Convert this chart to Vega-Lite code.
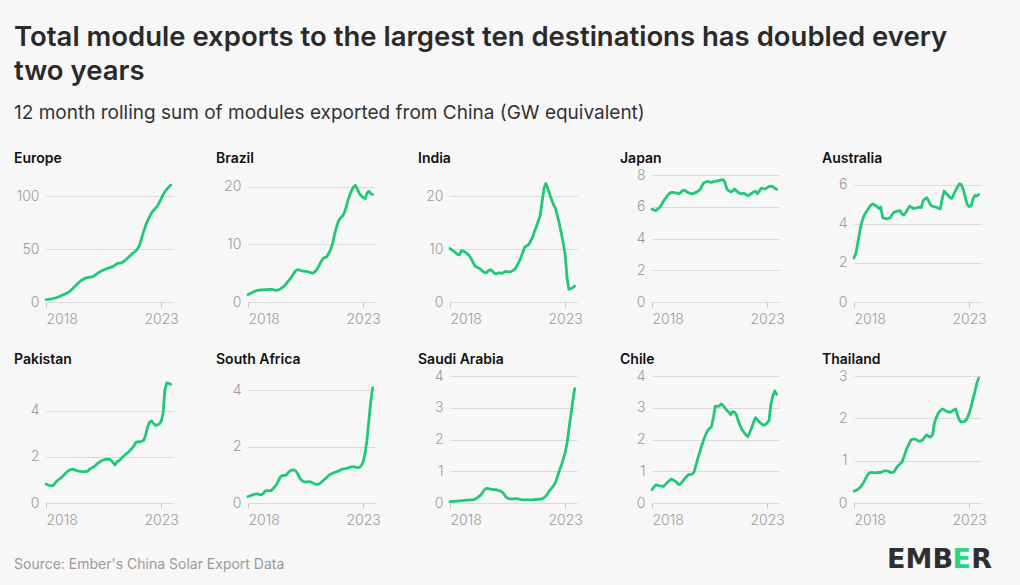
{
  "$schema": "https://vega.github.io/schema/vega-lite/v6.json",
  "padding": {"left": 14, "top": 23, "right": 28, "bottom": 13},
  "background": "#f7f7f7",
  "title": {
    "text": ["Total module exports to the largest ten destinations has doubled every", "two years"],
    "subtitle": "12 month rolling sum of modules exported from China (GW equivalent)",
    "anchor": "start", "font": "Inter", "fontSize": 27.5, "fontWeight": 600, "color": "#2a2a2a", "lineHeight": 34,
    "subtitleFont": "Inter", "subtitleFontSize": 19, "subtitleFontWeight": 400, "subtitleColor": "#333333", "subtitlePadding": 19, "offset": 29
  },
  "datasets": {
    "Europe": [{"date":"2018-01","gw":2.2},{"date":"2018-02","gw":2.4},{"date":"2018-03","gw":2.7},{"date":"2018-04","gw":3.0},{"date":"2018-05","gw":3.4},{"date":"2018-06","gw":3.9},{"date":"2018-07","gw":4.5},{"date":"2018-08","gw":5.2},{"date":"2018-09","gw":6.0},{"date":"2018-10","gw":6.8},{"date":"2018-11","gw":7.6},{"date":"2018-12","gw":8.4},{"date":"2019-01","gw":9.5},{"date":"2019-02","gw":11.0},{"date":"2019-03","gw":12.8},{"date":"2019-04","gw":14.6},{"date":"2019-05","gw":16.4},{"date":"2019-06","gw":18.2},{"date":"2019-07","gw":19.8},{"date":"2019-08","gw":21.0},{"date":"2019-09","gw":22.0},{"date":"2019-10","gw":22.8},{"date":"2019-11","gw":23.3},{"date":"2019-12","gw":23.6},{"date":"2020-01","gw":23.8},{"date":"2020-02","gw":24.5},{"date":"2020-03","gw":25.8},{"date":"2020-04","gw":27.2},{"date":"2020-05","gw":28.4},{"date":"2020-06","gw":29.4},{"date":"2020-07","gw":30.2},{"date":"2020-08","gw":31.0},{"date":"2020-09","gw":31.8},{"date":"2020-10","gw":32.4},{"date":"2020-11","gw":33.0},{"date":"2020-12","gw":33.6},{"date":"2021-01","gw":34.8},{"date":"2021-02","gw":36.2},{"date":"2021-03","gw":36.8},{"date":"2021-04","gw":36.8},{"date":"2021-05","gw":37.6},{"date":"2021-06","gw":39.0},{"date":"2021-07","gw":40.6},{"date":"2021-08","gw":42.2},{"date":"2021-09","gw":44.0},{"date":"2021-10","gw":45.8},{"date":"2021-11","gw":47.2},{"date":"2021-12","gw":48.5},{"date":"2022-01","gw":51.0},{"date":"2022-02","gw":55.0},{"date":"2022-03","gw":61.0},{"date":"2022-04","gw":67.0},{"date":"2022-05","gw":72.5},{"date":"2022-06","gw":77.0},{"date":"2022-07","gw":80.5},{"date":"2022-08","gw":84.0},{"date":"2022-09","gw":86.5},{"date":"2022-10","gw":88.5},{"date":"2022-11","gw":90.5},{"date":"2022-12","gw":94.0},{"date":"2023-01","gw":97.5},{"date":"2023-02","gw":101.5},{"date":"2023-03","gw":104.0},{"date":"2023-04","gw":106.5},{"date":"2023-05","gw":108.5},{"date":"2023-06","gw":110.5}],
    "Brazil": [{"date":"2018-01","gw":1.3},{"date":"2018-02","gw":1.45},{"date":"2018-03","gw":1.6},{"date":"2018-04","gw":1.75},{"date":"2018-05","gw":1.9},{"date":"2018-06","gw":2.0},{"date":"2018-07","gw":2.05},{"date":"2018-08","gw":2.1},{"date":"2018-09","gw":2.1},{"date":"2018-10","gw":2.15},{"date":"2018-11","gw":2.15},{"date":"2018-12","gw":2.2},{"date":"2019-01","gw":2.2},{"date":"2019-02","gw":2.15},{"date":"2019-03","gw":2.05},{"date":"2019-04","gw":2.0},{"date":"2019-05","gw":2.1},{"date":"2019-06","gw":2.3},{"date":"2019-07","gw":2.55},{"date":"2019-08","gw":2.8},{"date":"2019-09","gw":3.2},{"date":"2019-10","gw":3.6},{"date":"2019-11","gw":4.0},{"date":"2019-12","gw":4.5},{"date":"2020-01","gw":5.0},{"date":"2020-02","gw":5.5},{"date":"2020-03","gw":5.6},{"date":"2020-04","gw":5.5},{"date":"2020-05","gw":5.4},{"date":"2020-06","gw":5.35},{"date":"2020-07","gw":5.3},{"date":"2020-08","gw":5.25},{"date":"2020-09","gw":5.15},{"date":"2020-10","gw":5.05},{"date":"2020-11","gw":5.0},{"date":"2020-12","gw":5.3},{"date":"2021-01","gw":5.7},{"date":"2021-02","gw":6.3},{"date":"2021-03","gw":6.9},{"date":"2021-04","gw":7.5},{"date":"2021-05","gw":7.7},{"date":"2021-06","gw":7.8},{"date":"2021-07","gw":8.4},{"date":"2021-08","gw":9.0},{"date":"2021-09","gw":10.0},{"date":"2021-10","gw":11.5},{"date":"2021-11","gw":12.8},{"date":"2021-12","gw":13.9},{"date":"2022-01","gw":14.5},{"date":"2022-02","gw":14.8},{"date":"2022-03","gw":15.3},{"date":"2022-04","gw":16.2},{"date":"2022-05","gw":17.5},{"date":"2022-06","gw":18.5},{"date":"2022-07","gw":19.3},{"date":"2022-08","gw":19.9},{"date":"2022-09","gw":20.2},{"date":"2022-10","gw":19.6},{"date":"2022-11","gw":18.8},{"date":"2022-12","gw":18.4},{"date":"2023-01","gw":18.1},{"date":"2023-02","gw":17.9},{"date":"2023-03","gw":18.8},{"date":"2023-04","gw":19.2},{"date":"2023-05","gw":18.8},{"date":"2023-06","gw":18.6}],
    "India": [{"date":"2018-01","gw":10.1},{"date":"2018-02","gw":9.8},{"date":"2018-03","gw":9.6},{"date":"2018-04","gw":9.3},{"date":"2018-05","gw":9.0},{"date":"2018-06","gw":8.9},{"date":"2018-07","gw":9.7},{"date":"2018-08","gw":9.6},{"date":"2018-09","gw":9.4},{"date":"2018-10","gw":9.1},{"date":"2018-11","gw":8.8},{"date":"2018-12","gw":8.2},{"date":"2019-01","gw":7.5},{"date":"2019-02","gw":6.8},{"date":"2019-03","gw":6.6},{"date":"2019-04","gw":6.4},{"date":"2019-05","gw":6.2},{"date":"2019-06","gw":5.8},{"date":"2019-07","gw":5.6},{"date":"2019-08","gw":5.5},{"date":"2019-09","gw":5.9},{"date":"2019-10","gw":6.1},{"date":"2019-11","gw":5.9},{"date":"2019-12","gw":5.5},{"date":"2020-01","gw":5.3},{"date":"2020-02","gw":5.5},{"date":"2020-03","gw":5.5},{"date":"2020-04","gw":5.4},{"date":"2020-05","gw":5.6},{"date":"2020-06","gw":5.8},{"date":"2020-07","gw":5.7},{"date":"2020-08","gw":5.7},{"date":"2020-09","gw":5.8},{"date":"2020-10","gw":6.0},{"date":"2020-11","gw":6.3},{"date":"2020-12","gw":6.9},{"date":"2021-01","gw":7.6},{"date":"2021-02","gw":8.5},{"date":"2021-03","gw":9.4},{"date":"2021-04","gw":10.4},{"date":"2021-05","gw":10.6},{"date":"2021-06","gw":10.8},{"date":"2021-07","gw":11.5},{"date":"2021-08","gw":12.2},{"date":"2021-09","gw":13.3},{"date":"2021-10","gw":14.2},{"date":"2021-11","gw":15.3},{"date":"2021-12","gw":16.3},{"date":"2022-01","gw":19.0},{"date":"2022-02","gw":21.5},{"date":"2022-03","gw":22.4},{"date":"2022-04","gw":21.4},{"date":"2022-05","gw":20.4},{"date":"2022-06","gw":19.3},{"date":"2022-07","gw":18.4},{"date":"2022-08","gw":17.7},{"date":"2022-09","gw":16.2},{"date":"2022-10","gw":14.8},{"date":"2022-11","gw":13.0},{"date":"2022-12","gw":11.2},{"date":"2023-01","gw":9.0},{"date":"2023-02","gw":4.5},{"date":"2023-03","gw":2.4},{"date":"2023-04","gw":2.5},{"date":"2023-05","gw":2.7},{"date":"2023-06","gw":3.0}],
    "Japan": [{"date":"2018-01","gw":5.85},{"date":"2018-02","gw":5.8},{"date":"2018-03","gw":5.76},{"date":"2018-04","gw":5.85},{"date":"2018-05","gw":5.95},{"date":"2018-06","gw":6.12},{"date":"2018-07","gw":6.35},{"date":"2018-08","gw":6.52},{"date":"2018-09","gw":6.7},{"date":"2018-10","gw":6.82},{"date":"2018-11","gw":6.9},{"date":"2018-12","gw":6.9},{"date":"2019-01","gw":6.88},{"date":"2019-02","gw":6.86},{"date":"2019-03","gw":6.82},{"date":"2019-04","gw":6.9},{"date":"2019-05","gw":7.02},{"date":"2019-06","gw":7.04},{"date":"2019-07","gw":6.96},{"date":"2019-08","gw":6.88},{"date":"2019-09","gw":6.84},{"date":"2019-10","gw":6.81},{"date":"2019-11","gw":6.86},{"date":"2019-12","gw":6.92},{"date":"2020-01","gw":6.98},{"date":"2020-02","gw":7.08},{"date":"2020-03","gw":7.3},{"date":"2020-04","gw":7.5},{"date":"2020-05","gw":7.56},{"date":"2020-06","gw":7.6},{"date":"2020-07","gw":7.56},{"date":"2020-08","gw":7.54},{"date":"2020-09","gw":7.58},{"date":"2020-10","gw":7.6},{"date":"2020-11","gw":7.63},{"date":"2020-12","gw":7.66},{"date":"2021-01","gw":7.69},{"date":"2021-02","gw":7.71},{"date":"2021-03","gw":7.55},{"date":"2021-04","gw":7.12},{"date":"2021-05","gw":7.02},{"date":"2021-06","gw":6.94},{"date":"2021-07","gw":6.98},{"date":"2021-08","gw":7.12},{"date":"2021-09","gw":7.0},{"date":"2021-10","gw":6.9},{"date":"2021-11","gw":6.83},{"date":"2021-12","gw":6.82},{"date":"2022-01","gw":6.85},{"date":"2022-02","gw":6.76},{"date":"2022-03","gw":6.7},{"date":"2022-04","gw":6.75},{"date":"2022-05","gw":6.86},{"date":"2022-06","gw":6.93},{"date":"2022-07","gw":6.97},{"date":"2022-08","gw":6.82},{"date":"2022-09","gw":7.0},{"date":"2022-10","gw":7.17},{"date":"2022-11","gw":7.14},{"date":"2022-12","gw":7.12},{"date":"2023-01","gw":7.2},{"date":"2023-02","gw":7.28},{"date":"2023-03","gw":7.3},{"date":"2023-04","gw":7.27},{"date":"2023-05","gw":7.16},{"date":"2023-06","gw":7.1}],
    "Australia": [{"date":"2018-01","gw":2.25},{"date":"2018-02","gw":2.5},{"date":"2018-03","gw":3.0},{"date":"2018-04","gw":3.6},{"date":"2018-05","gw":4.05},{"date":"2018-06","gw":4.35},{"date":"2018-07","gw":4.55},{"date":"2018-08","gw":4.7},{"date":"2018-09","gw":4.85},{"date":"2018-10","gw":4.98},{"date":"2018-11","gw":5.02},{"date":"2018-12","gw":4.95},{"date":"2019-01","gw":4.89},{"date":"2019-02","gw":4.78},{"date":"2019-03","gw":4.86},{"date":"2019-04","gw":4.32},{"date":"2019-05","gw":4.28},{"date":"2019-06","gw":4.26},{"date":"2019-07","gw":4.28},{"date":"2019-08","gw":4.32},{"date":"2019-09","gw":4.5},{"date":"2019-10","gw":4.6},{"date":"2019-11","gw":4.63},{"date":"2019-12","gw":4.66},{"date":"2020-01","gw":4.68},{"date":"2020-02","gw":4.5},{"date":"2020-03","gw":4.45},{"date":"2020-04","gw":4.58},{"date":"2020-05","gw":4.75},{"date":"2020-06","gw":4.9},{"date":"2020-07","gw":4.85},{"date":"2020-08","gw":4.78},{"date":"2020-09","gw":4.8},{"date":"2020-10","gw":4.83},{"date":"2020-11","gw":4.86},{"date":"2020-12","gw":4.82},{"date":"2021-01","gw":5.18},{"date":"2021-02","gw":5.28},{"date":"2021-03","gw":5.34},{"date":"2021-04","gw":5.15},{"date":"2021-05","gw":4.96},{"date":"2021-06","gw":4.9},{"date":"2021-07","gw":4.87},{"date":"2021-08","gw":4.85},{"date":"2021-09","gw":4.8},{"date":"2021-10","gw":4.77},{"date":"2021-11","gw":5.3},{"date":"2021-12","gw":5.68},{"date":"2022-01","gw":5.55},{"date":"2022-02","gw":5.45},{"date":"2022-03","gw":5.35},{"date":"2022-04","gw":5.3},{"date":"2022-05","gw":5.5},{"date":"2022-06","gw":5.72},{"date":"2022-07","gw":5.9},{"date":"2022-08","gw":6.05},{"date":"2022-09","gw":6.0},{"date":"2022-10","gw":5.75},{"date":"2022-11","gw":5.35},{"date":"2022-12","gw":5.0},{"date":"2023-01","gw":4.88},{"date":"2023-02","gw":4.92},{"date":"2023-03","gw":5.25},{"date":"2023-04","gw":5.45},{"date":"2023-05","gw":5.42},{"date":"2023-06","gw":5.5}],
    "Pakistan": [{"date":"2018-01","gw":0.82},{"date":"2018-02","gw":0.78},{"date":"2018-03","gw":0.76},{"date":"2018-04","gw":0.74},{"date":"2018-05","gw":0.78},{"date":"2018-06","gw":0.88},{"date":"2018-07","gw":0.97},{"date":"2018-08","gw":1.04},{"date":"2018-09","gw":1.1},{"date":"2018-10","gw":1.18},{"date":"2018-11","gw":1.27},{"date":"2018-12","gw":1.35},{"date":"2019-01","gw":1.42},{"date":"2019-02","gw":1.45},{"date":"2019-03","gw":1.47},{"date":"2019-04","gw":1.44},{"date":"2019-05","gw":1.4},{"date":"2019-06","gw":1.38},{"date":"2019-07","gw":1.37},{"date":"2019-08","gw":1.36},{"date":"2019-09","gw":1.36},{"date":"2019-10","gw":1.36},{"date":"2019-11","gw":1.4},{"date":"2019-12","gw":1.48},{"date":"2020-01","gw":1.52},{"date":"2020-02","gw":1.58},{"date":"2020-03","gw":1.64},{"date":"2020-04","gw":1.72},{"date":"2020-05","gw":1.78},{"date":"2020-06","gw":1.83},{"date":"2020-07","gw":1.86},{"date":"2020-08","gw":1.89},{"date":"2020-09","gw":1.9},{"date":"2020-10","gw":1.89},{"date":"2020-11","gw":1.85},{"date":"2020-12","gw":1.74},{"date":"2021-01","gw":1.65},{"date":"2021-02","gw":1.8},{"date":"2021-03","gw":1.82},{"date":"2021-04","gw":1.9},{"date":"2021-05","gw":2.0},{"date":"2021-06","gw":2.06},{"date":"2021-07","gw":2.14},{"date":"2021-08","gw":2.2},{"date":"2021-09","gw":2.3},{"date":"2021-10","gw":2.38},{"date":"2021-11","gw":2.5},{"date":"2021-12","gw":2.64},{"date":"2022-01","gw":2.66},{"date":"2022-02","gw":2.64},{"date":"2022-03","gw":2.68},{"date":"2022-04","gw":2.72},{"date":"2022-05","gw":2.95},{"date":"2022-06","gw":3.3},{"date":"2022-07","gw":3.5},{"date":"2022-08","gw":3.55},{"date":"2022-09","gw":3.45},{"date":"2022-10","gw":3.36},{"date":"2022-11","gw":3.38},{"date":"2022-12","gw":3.42},{"date":"2023-01","gw":3.52},{"date":"2023-02","gw":3.9},{"date":"2023-03","gw":4.9},{"date":"2023-04","gw":5.2},{"date":"2023-05","gw":5.18},{"date":"2023-06","gw":5.14}],
    "South Africa": [{"date":"2018-01","gw":0.23},{"date":"2018-02","gw":0.25},{"date":"2018-03","gw":0.28},{"date":"2018-04","gw":0.3},{"date":"2018-05","gw":0.32},{"date":"2018-06","gw":0.32},{"date":"2018-07","gw":0.3},{"date":"2018-08","gw":0.29},{"date":"2018-09","gw":0.34},{"date":"2018-10","gw":0.42},{"date":"2018-11","gw":0.44},{"date":"2018-12","gw":0.44},{"date":"2019-01","gw":0.44},{"date":"2019-02","gw":0.5},{"date":"2019-03","gw":0.58},{"date":"2019-04","gw":0.66},{"date":"2019-05","gw":0.8},{"date":"2019-06","gw":0.93},{"date":"2019-07","gw":0.98},{"date":"2019-08","gw":0.96},{"date":"2019-09","gw":1.0},{"date":"2019-10","gw":1.08},{"date":"2019-11","gw":1.14},{"date":"2019-12","gw":1.17},{"date":"2020-01","gw":1.17},{"date":"2020-02","gw":1.13},{"date":"2020-03","gw":1.02},{"date":"2020-04","gw":0.88},{"date":"2020-05","gw":0.8},{"date":"2020-06","gw":0.76},{"date":"2020-07","gw":0.74},{"date":"2020-08","gw":0.76},{"date":"2020-09","gw":0.76},{"date":"2020-10","gw":0.74},{"date":"2020-11","gw":0.7},{"date":"2020-12","gw":0.67},{"date":"2021-01","gw":0.66},{"date":"2021-02","gw":0.68},{"date":"2021-03","gw":0.72},{"date":"2021-04","gw":0.78},{"date":"2021-05","gw":0.84},{"date":"2021-06","gw":0.9},{"date":"2021-07","gw":0.97},{"date":"2021-08","gw":1.02},{"date":"2021-09","gw":1.05},{"date":"2021-10","gw":1.08},{"date":"2021-11","gw":1.1},{"date":"2021-12","gw":1.13},{"date":"2022-01","gw":1.16},{"date":"2022-02","gw":1.2},{"date":"2022-03","gw":1.21},{"date":"2022-04","gw":1.22},{"date":"2022-05","gw":1.24},{"date":"2022-06","gw":1.26},{"date":"2022-07","gw":1.28},{"date":"2022-08","gw":1.29},{"date":"2022-09","gw":1.27},{"date":"2022-10","gw":1.25},{"date":"2022-11","gw":1.26},{"date":"2022-12","gw":1.32},{"date":"2023-01","gw":1.46},{"date":"2023-02","gw":1.75},{"date":"2023-03","gw":2.2},{"date":"2023-04","gw":2.9},{"date":"2023-05","gw":3.57},{"date":"2023-06","gw":4.08}],
    "Saudi Arabia": [{"date":"2018-01","gw":0.04},{"date":"2018-02","gw":0.05},{"date":"2018-03","gw":0.05},{"date":"2018-04","gw":0.06},{"date":"2018-05","gw":0.06},{"date":"2018-06","gw":0.07},{"date":"2018-07","gw":0.07},{"date":"2018-08","gw":0.08},{"date":"2018-09","gw":0.08},{"date":"2018-10","gw":0.09},{"date":"2018-11","gw":0.09},{"date":"2018-12","gw":0.1},{"date":"2019-01","gw":0.1},{"date":"2019-02","gw":0.12},{"date":"2019-03","gw":0.15},{"date":"2019-04","gw":0.2},{"date":"2019-05","gw":0.25},{"date":"2019-06","gw":0.33},{"date":"2019-07","gw":0.42},{"date":"2019-08","gw":0.46},{"date":"2019-09","gw":0.45},{"date":"2019-10","gw":0.44},{"date":"2019-11","gw":0.43},{"date":"2019-12","gw":0.42},{"date":"2020-01","gw":0.42},{"date":"2020-02","gw":0.4},{"date":"2020-03","gw":0.39},{"date":"2020-04","gw":0.35},{"date":"2020-05","gw":0.3},{"date":"2020-06","gw":0.2},{"date":"2020-07","gw":0.15},{"date":"2020-08","gw":0.13},{"date":"2020-09","gw":0.13},{"date":"2020-10","gw":0.13},{"date":"2020-11","gw":0.14},{"date":"2020-12","gw":0.14},{"date":"2021-01","gw":0.12},{"date":"2021-02","gw":0.11},{"date":"2021-03","gw":0.1},{"date":"2021-04","gw":0.1},{"date":"2021-05","gw":0.1},{"date":"2021-06","gw":0.1},{"date":"2021-07","gw":0.1},{"date":"2021-08","gw":0.1},{"date":"2021-09","gw":0.11},{"date":"2021-10","gw":0.11},{"date":"2021-11","gw":0.12},{"date":"2021-12","gw":0.12},{"date":"2022-01","gw":0.13},{"date":"2022-02","gw":0.17},{"date":"2022-03","gw":0.22},{"date":"2022-04","gw":0.3},{"date":"2022-05","gw":0.4},{"date":"2022-06","gw":0.47},{"date":"2022-07","gw":0.54},{"date":"2022-08","gw":0.65},{"date":"2022-09","gw":0.83},{"date":"2022-10","gw":1.02},{"date":"2022-11","gw":1.18},{"date":"2022-12","gw":1.38},{"date":"2023-01","gw":1.58},{"date":"2023-02","gw":1.88},{"date":"2023-03","gw":2.32},{"date":"2023-04","gw":2.75},{"date":"2023-05","gw":3.2},{"date":"2023-06","gw":3.6}],
    "Chile": [{"date":"2018-01","gw":0.42},{"date":"2018-02","gw":0.5},{"date":"2018-03","gw":0.57},{"date":"2018-04","gw":0.56},{"date":"2018-05","gw":0.54},{"date":"2018-06","gw":0.53},{"date":"2018-07","gw":0.52},{"date":"2018-08","gw":0.58},{"date":"2018-09","gw":0.65},{"date":"2018-10","gw":0.7},{"date":"2018-11","gw":0.75},{"date":"2018-12","gw":0.73},{"date":"2019-01","gw":0.69},{"date":"2019-02","gw":0.64},{"date":"2019-03","gw":0.58},{"date":"2019-04","gw":0.6},{"date":"2019-05","gw":0.68},{"date":"2019-06","gw":0.76},{"date":"2019-07","gw":0.83},{"date":"2019-08","gw":0.89},{"date":"2019-09","gw":0.9},{"date":"2019-10","gw":0.91},{"date":"2019-11","gw":0.98},{"date":"2019-12","gw":1.2},{"date":"2020-01","gw":1.43},{"date":"2020-02","gw":1.62},{"date":"2020-03","gw":1.82},{"date":"2020-04","gw":2.0},{"date":"2020-05","gw":2.15},{"date":"2020-06","gw":2.28},{"date":"2020-07","gw":2.35},{"date":"2020-08","gw":2.4},{"date":"2020-09","gw":2.7},{"date":"2020-10","gw":3.05},{"date":"2020-11","gw":3.04},{"date":"2020-12","gw":3.05},{"date":"2021-01","gw":3.12},{"date":"2021-02","gw":3.07},{"date":"2021-03","gw":3.0},{"date":"2021-04","gw":2.92},{"date":"2021-05","gw":2.86},{"date":"2021-06","gw":2.78},{"date":"2021-07","gw":2.88},{"date":"2021-08","gw":2.86},{"date":"2021-09","gw":2.78},{"date":"2021-10","gw":2.58},{"date":"2021-11","gw":2.42},{"date":"2021-12","gw":2.3},{"date":"2022-01","gw":2.22},{"date":"2022-02","gw":2.14},{"date":"2022-03","gw":2.09},{"date":"2022-04","gw":2.22},{"date":"2022-05","gw":2.38},{"date":"2022-06","gw":2.55},{"date":"2022-07","gw":2.69},{"date":"2022-08","gw":2.62},{"date":"2022-09","gw":2.55},{"date":"2022-10","gw":2.5},{"date":"2022-11","gw":2.45},{"date":"2022-12","gw":2.47},{"date":"2023-01","gw":2.52},{"date":"2023-02","gw":2.6},{"date":"2023-03","gw":3.1},{"date":"2023-04","gw":3.37},{"date":"2023-05","gw":3.53},{"date":"2023-06","gw":3.42}],
    "Thailand": [{"date":"2018-01","gw":0.28},{"date":"2018-02","gw":0.3},{"date":"2018-03","gw":0.32},{"date":"2018-04","gw":0.36},{"date":"2018-05","gw":0.41},{"date":"2018-06","gw":0.48},{"date":"2018-07","gw":0.57},{"date":"2018-08","gw":0.65},{"date":"2018-09","gw":0.71},{"date":"2018-10","gw":0.72},{"date":"2018-11","gw":0.72},{"date":"2018-12","gw":0.71},{"date":"2019-01","gw":0.72},{"date":"2019-02","gw":0.72},{"date":"2019-03","gw":0.72},{"date":"2019-04","gw":0.74},{"date":"2019-05","gw":0.76},{"date":"2019-06","gw":0.76},{"date":"2019-07","gw":0.75},{"date":"2019-08","gw":0.72},{"date":"2019-09","gw":0.72},{"date":"2019-10","gw":0.74},{"date":"2019-11","gw":0.82},{"date":"2019-12","gw":0.88},{"date":"2020-01","gw":0.92},{"date":"2020-02","gw":0.97},{"date":"2020-03","gw":1.08},{"date":"2020-04","gw":1.22},{"date":"2020-05","gw":1.33},{"date":"2020-06","gw":1.43},{"date":"2020-07","gw":1.5},{"date":"2020-08","gw":1.51},{"date":"2020-09","gw":1.51},{"date":"2020-10","gw":1.48},{"date":"2020-11","gw":1.46},{"date":"2020-12","gw":1.47},{"date":"2021-01","gw":1.5},{"date":"2021-02","gw":1.57},{"date":"2021-03","gw":1.61},{"date":"2021-04","gw":1.57},{"date":"2021-05","gw":1.56},{"date":"2021-06","gw":1.62},{"date":"2021-07","gw":1.9},{"date":"2021-08","gw":2.03},{"date":"2021-09","gw":2.13},{"date":"2021-10","gw":2.18},{"date":"2021-11","gw":2.22},{"date":"2021-12","gw":2.2},{"date":"2022-01","gw":2.17},{"date":"2022-02","gw":2.15},{"date":"2022-03","gw":2.14},{"date":"2022-04","gw":2.16},{"date":"2022-05","gw":2.2},{"date":"2022-06","gw":2.22},{"date":"2022-07","gw":2.08},{"date":"2022-08","gw":1.95},{"date":"2022-09","gw":1.91},{"date":"2022-10","gw":1.92},{"date":"2022-11","gw":1.94},{"date":"2022-12","gw":2.0},{"date":"2023-01","gw":2.12},{"date":"2023-02","gw":2.27},{"date":"2023-03","gw":2.45},{"date":"2023-04","gw":2.62},{"date":"2023-05","gw":2.82},{"date":"2023-06","gw":2.95}]
  },
  "vconcat": [
    {
      "columns": 5,
      "spacing": {"row": 27, "column": 37},
      "concat": [
        {"title": {"text": "Europe"}, "data": {"name": "Europe"}, "width": 127, "height": 127, "mark": "line",
         "encoding": {"x": {"field": "date", "type": "temporal", "scale": {"type": "utc", "domain": [{"year": 2018, "month": 1, "date": 1, "utc": true}, {"year": 2023, "month": 7, "date": 8, "utc": true}]}, "axis": {"values": [{"year": 2018, "month": 1, "date": 1, "utc": true}, {"year": 2023, "month": 1, "date": 1, "utc": true}]}},
                      "y": {"field": "gw", "type": "quantitative", "scale": {"domain": [0, 120], "nice": false}, "axis": {"values": [0, 50, 100]}}}},
        {"title": {"text": "Brazil"}, "data": {"name": "Brazil"}, "width": 127, "height": 127, "mark": "line",
         "encoding": {"x": {"field": "date", "type": "temporal", "scale": {"type": "utc", "domain": [{"year": 2018, "month": 1, "date": 1, "utc": true}, {"year": 2023, "month": 7, "date": 8, "utc": true}]}, "axis": {"values": [{"year": 2018, "month": 1, "date": 1, "utc": true}, {"year": 2023, "month": 1, "date": 1, "utc": true}]}},
                      "y": {"field": "gw", "type": "quantitative", "scale": {"domain": [0, 22], "nice": false}, "axis": {"values": [0, 10, 20]}}}},
        {"title": {"text": "India"}, "data": {"name": "India"}, "width": 127, "height": 127, "mark": "line",
         "encoding": {"x": {"field": "date", "type": "temporal", "scale": {"type": "utc", "domain": [{"year": 2018, "month": 1, "date": 1, "utc": true}, {"year": 2023, "month": 7, "date": 8, "utc": true}]}, "axis": {"values": [{"year": 2018, "month": 1, "date": 1, "utc": true}, {"year": 2023, "month": 1, "date": 1, "utc": true}]}},
                      "y": {"field": "gw", "type": "quantitative", "scale": {"domain": [0, 24], "nice": false}, "axis": {"values": [0, 10, 20]}}}},
        {"title": {"text": "Japan", "offset": 2}, "data": {"name": "Japan"}, "width": 127, "height": 127, "mark": "line",
         "encoding": {"x": {"field": "date", "type": "temporal", "scale": {"type": "utc", "domain": [{"year": 2018, "month": 1, "date": 1, "utc": true}, {"year": 2023, "month": 7, "date": 8, "utc": true}]}, "axis": {"values": [{"year": 2018, "month": 1, "date": 1, "utc": true}, {"year": 2023, "month": 1, "date": 1, "utc": true}]}},
                      "y": {"field": "gw", "type": "quantitative", "scale": {"domain": [0, 8], "nice": false}, "axis": {"values": [0, 2, 4, 6, 8]}}}},
        {"title": {"text": "Australia"}, "data": {"name": "Australia"}, "width": 127, "height": 127, "mark": "line",
         "encoding": {"x": {"field": "date", "type": "temporal", "scale": {"type": "utc", "domain": [{"year": 2018, "month": 1, "date": 1, "utc": true}, {"year": 2023, "month": 7, "date": 8, "utc": true}]}, "axis": {"values": [{"year": 2018, "month": 1, "date": 1, "utc": true}, {"year": 2023, "month": 1, "date": 1, "utc": true}]}},
                      "y": {"field": "gw", "type": "quantitative", "scale": {"domain": [0, 6.5], "nice": false}, "axis": {"values": [0, 2, 4, 6]}}}},
        {"title": {"text": "Pakistan"}, "data": {"name": "Pakistan"}, "width": 127, "height": 127, "mark": "line",
         "encoding": {"x": {"field": "date", "type": "temporal", "scale": {"type": "utc", "domain": [{"year": 2018, "month": 1, "date": 1, "utc": true}, {"year": 2023, "month": 7, "date": 8, "utc": true}]}, "axis": {"values": [{"year": 2018, "month": 1, "date": 1, "utc": true}, {"year": 2023, "month": 1, "date": 1, "utc": true}]}},
                      "y": {"field": "gw", "type": "quantitative", "scale": {"domain": [0, 5.5], "nice": false}, "axis": {"values": [0, 2, 4]}}}},
        {"title": {"text": "South Africa"}, "data": {"name": "South Africa"}, "width": 127, "height": 127, "mark": "line",
         "encoding": {"x": {"field": "date", "type": "temporal", "scale": {"type": "utc", "domain": [{"year": 2018, "month": 1, "date": 1, "utc": true}, {"year": 2023, "month": 7, "date": 8, "utc": true}]}, "axis": {"values": [{"year": 2018, "month": 1, "date": 1, "utc": true}, {"year": 2023, "month": 1, "date": 1, "utc": true}]}},
                      "y": {"field": "gw", "type": "quantitative", "scale": {"domain": [0, 4.5], "nice": false}, "axis": {"values": [0, 2, 4]}}}},
        {"title": {"text": "Saudi Arabia", "offset": 2}, "data": {"name": "Saudi Arabia"}, "width": 127, "height": 127, "mark": "line",
         "encoding": {"x": {"field": "date", "type": "temporal", "scale": {"type": "utc", "domain": [{"year": 2018, "month": 1, "date": 1, "utc": true}, {"year": 2023, "month": 7, "date": 8, "utc": true}]}, "axis": {"values": [{"year": 2018, "month": 1, "date": 1, "utc": true}, {"year": 2023, "month": 1, "date": 1, "utc": true}]}},
                      "y": {"field": "gw", "type": "quantitative", "scale": {"domain": [0, 4], "nice": false}, "axis": {"values": [0, 1, 2, 3, 4]}}}},
        {"title": {"text": "Chile", "offset": 2}, "data": {"name": "Chile"}, "width": 127, "height": 127, "mark": "line",
         "encoding": {"x": {"field": "date", "type": "temporal", "scale": {"type": "utc", "domain": [{"year": 2018, "month": 1, "date": 1, "utc": true}, {"year": 2023, "month": 7, "date": 8, "utc": true}]}, "axis": {"values": [{"year": 2018, "month": 1, "date": 1, "utc": true}, {"year": 2023, "month": 1, "date": 1, "utc": true}]}},
                      "y": {"field": "gw", "type": "quantitative", "scale": {"domain": [0, 4], "nice": false}, "axis": {"values": [0, 1, 2, 3, 4]}}}},
        {"title": {"text": "Thailand", "offset": 2}, "data": {"name": "Thailand"}, "width": 127, "height": 127, "mark": "line",
         "encoding": {"x": {"field": "date", "type": "temporal", "scale": {"type": "utc", "domain": [{"year": 2018, "month": 1, "date": 1, "utc": true}, {"year": 2023, "month": 7, "date": 8, "utc": true}]}, "axis": {"values": [{"year": 2018, "month": 1, "date": 1, "utc": true}, {"year": 2023, "month": 1, "date": 1, "utc": true}]}},
                      "y": {"field": "gw", "type": "quantitative", "scale": {"domain": [0, 3], "nice": false}, "axis": {"values": [0, 1, 2, 3]}}}}
      ]
    },
    {
      "width": 946, "height": 22,
      "data": {"values": [{"src": "Source: Ember's China Solar Export Data", "a": "EMB", "b": "E", "c": "R"}]},
      "layer": [
        {"mark": {"type": "text", "align": "left", "baseline": "middle", "font": "Inter", "fontSize": 14, "color": "#9a9a9a", "dx": -32, "dy": 5}, "encoding": {"x": {"value": 0}, "text": {"field": "src"}}},
        {"mark": {"type": "text", "align": "right", "baseline": "middle", "font": "DejaVu Sans", "fontWeight": "bold", "fontSize": 27, "color": "#2f2f2f", "dx": -39}, "encoding": {"x": {"value": "width"}, "text": {"field": "a"}}},
        {"mark": {"type": "text", "align": "right", "baseline": "middle", "font": "DejaVu Sans", "fontWeight": "bold", "fontSize": 27, "color": "#2bd683", "dx": -21}, "encoding": {"x": {"value": "width"}, "text": {"field": "b"}}},
        {"mark": {"type": "text", "align": "right", "baseline": "middle", "font": "DejaVu Sans", "fontWeight": "bold", "fontSize": 27, "color": "#2f2f2f"}, "encoding": {"x": {"value": "width"}, "text": {"field": "c"}}}
      ]
    }
  ],
  "spacing": 19,
  "config": {
    "background": "#f7f7f7",
    "font": "Inter",
    "view": {"stroke": null},
    "line": {"color": "#20c977", "strokeWidth": 2.8, "strokeCap": "round", "strokeJoin": "round"},
    "title": {"anchor": "start", "font": "Inter", "fontSize": 14, "fontWeight": 600, "color": "#111111", "offset": 9},
    "axisY": {"grid": true, "gridColor": "#dadada", "gridWidth": 1, "domain": false, "ticks": false, "labelPadding": 7, "labelColor": "#9a9a9a", "labelFontSize": 14, "labelFontWeight": 300, "labelFont": "Inter", "minExtent": 32, "maxExtent": 32, "title": null},
    "axisX": {"grid": false, "domain": false, "ticks": true, "tickSize": 5, "tickColor": "#c8c8c8", "labelPadding": 5, "labelColor": "#9a9a9a", "labelFontSize": 14, "labelFontWeight": 300, "labelFont": "Inter", "format": "%Y", "title": null}
  }
}
